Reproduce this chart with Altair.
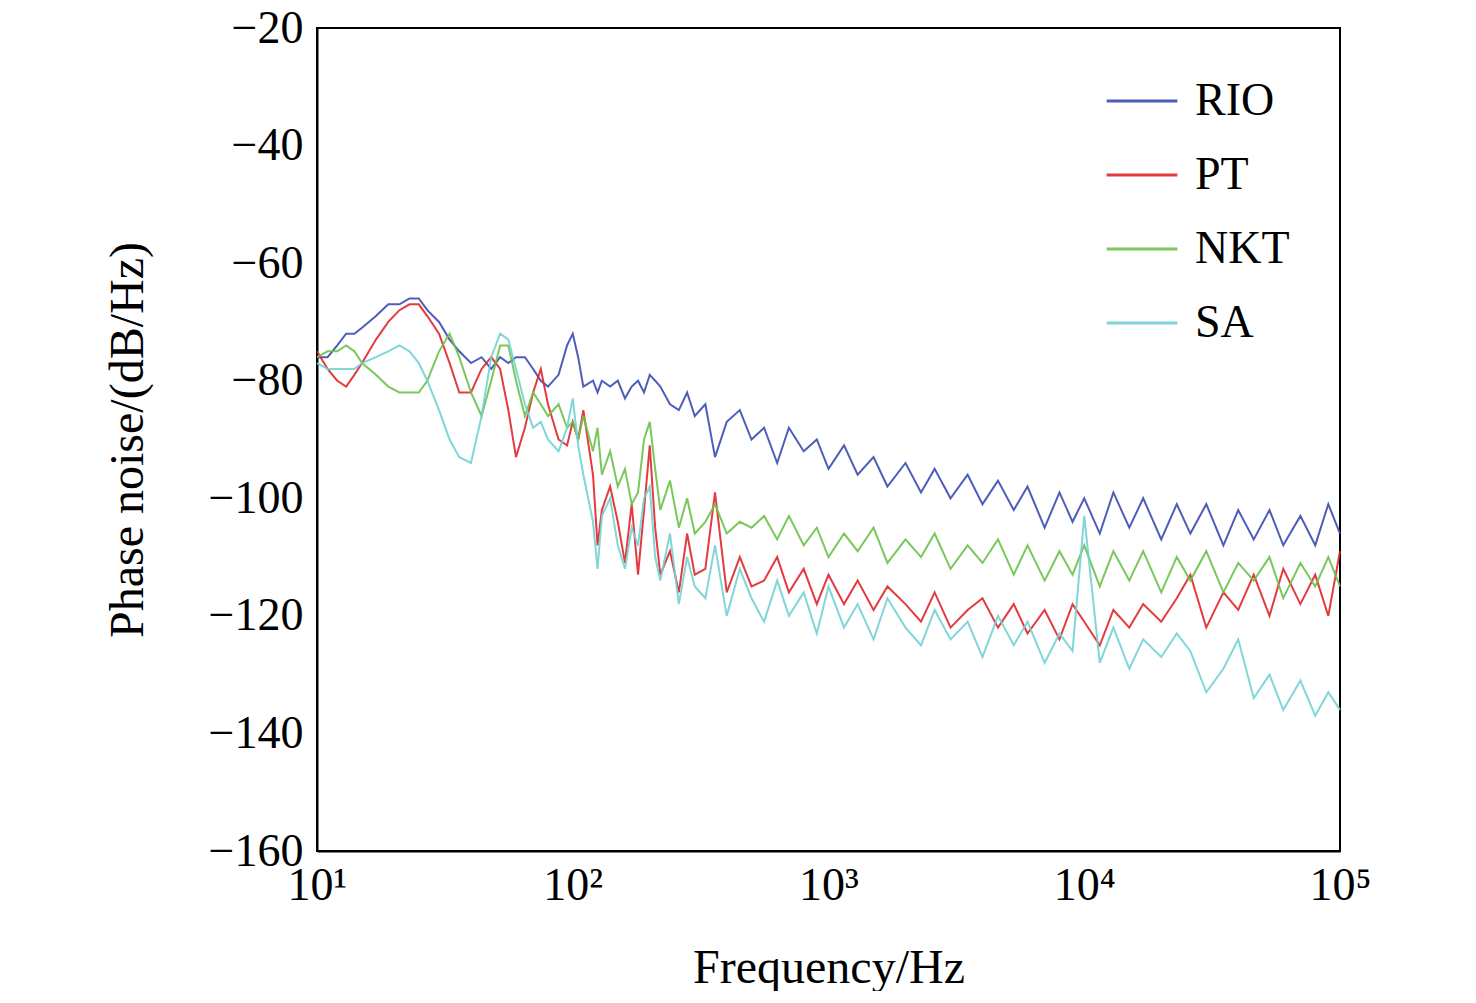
import altair as alt
import pandas as pd

freqs = [10, 11, 12, 13, 14, 15, 17, 19, 21, 23, 25, 27, 30, 33, 36, 40, 44, 48, 52, 56,
         60, 65, 70, 75, 80, 88, 95, 100, 105, 110, 120, 125, 130, 140, 150, 160, 170, 180,
         190, 200, 210, 220, 240, 260, 280, 300, 330, 360, 400, 450, 500, 560, 630, 700, 800,
         900, 1000, 1150, 1300, 1500, 1700, 2000, 2300, 2600, 3000, 3500, 4000, 4600, 5300,
         6000, 7000, 8000, 9000, 10000, 11500, 13000, 15000, 17000, 20000, 23000, 26000,
         30000, 35000, 40000, 46000, 53000, 60000, 70000, 80000, 90000, 100000]

rio = [-76, -76, -74, -72, -72, -71, -69, -67, -67, -66, -66, -68, -70, -73, -75, -77, -76, -78, -76, -77,
       -76, -76, -78, -80, -81, -79, -74, -72, -76, -81, -80, -82, -80, -81, -80, -83, -81, -80,
       -82, -79, -80, -81, -84, -85, -82, -86, -84, -93, -87, -85, -90, -88, -94, -88, -92,
       -90, -95, -91, -96, -93, -98, -94, -99, -95, -100, -96, -101, -97, -102,
       -98, -105, -99, -104, -100, -106, -99, -105, -100, -107, -101, -106,
       -101, -108, -102, -107, -102, -108, -103, -108, -101, -106]

pt = [-75, -78, -80, -81, -79, -77, -73, -70, -68, -67, -67, -69, -72, -77, -82, -82, -78, -76, -78, -85,
      -93, -88, -82, -78, -84, -90, -91, -87, -90, -85, -96, -108, -102, -98, -104, -111, -101, -113,
      -102, -91, -105, -113, -109, -116, -106, -113, -112, -99, -116, -110, -115, -114, -110, -116, -112,
      -118, -113, -118, -114, -119, -115, -118, -121, -116, -122, -119, -117, -122, -118,
      -123, -119, -124, -118, -121, -125, -119, -122, -118, -121, -117, -113,
      -122, -116, -119, -113, -120, -112, -118, -113, -120, -109]

nkt = [-76, -75, -75, -74, -75, -77, -79, -81, -82, -82, -82, -80, -75, -72, -76, -82, -86, -80, -74, -74,
       -80, -86, -82, -84, -86, -84, -88, -87, -90, -86, -92, -88, -96, -92, -98, -95, -101, -99,
       -90, -87, -95, -102, -97, -105, -100, -106, -104, -101, -106, -104, -105, -103, -107, -103, -108,
       -105, -110, -106, -109, -105, -111, -107, -110, -106, -112, -108, -111, -107, -113,
       -108, -114, -109, -113, -108, -115, -109, -114, -109, -116, -110, -114,
       -109, -116, -111, -114, -110, -117, -111, -115, -110, -115]

sa = [-77, -78, -78, -78, -78, -77, -76, -75, -74, -75, -77, -80, -85, -90, -93, -94, -86, -76, -72, -73,
      -78, -84, -88, -87, -90, -92, -88, -83, -91, -96, -104, -112, -103, -100, -108, -112, -105, -108,
      -100, -98, -110, -114, -106, -118, -110, -115, -117, -108, -120, -112, -117, -121, -114, -120, -116,
      -123, -115, -122, -118, -124, -117, -122, -125, -119, -124, -121, -127, -120, -125,
      -121, -128, -123, -126, -103, -128, -122, -129, -124, -127, -123, -126,
      -133, -129, -124, -134, -130, -136, -131, -137, -133, -136]

names = ["RIO", "PT", "NKT", "SA"]
colors = ["#3b4db0", "#e0262a", "#6cc24a", "#72d2d4"]

rows = []
for name, vals in zip(names, [rio, pt, nkt, sa]):
    for f, v in zip(freqs, vals):
        rows.append({"f": f, "v": v, "series": name})
df = pd.DataFrame(rows)

font = "Liberation Serif"
sup = ("'10' + (datum.value == 10 ? '¹' : datum.value == 100 ? '²' : "
       "datum.value == 1000 ? '³' : datum.value == 10000 ? '⁴' : '⁵')")

chart = (
    alt.Chart(df)
    .mark_line(strokeWidth=2, opacity=0.9)
    .encode(
        x=alt.X("f:Q", title="Frequency/Hz",
                scale=alt.Scale(type="log", domain=[10, 100000], nice=False),
                axis=alt.Axis(values=[10, 100, 1000, 10000, 100000], labelExpr=sup,
                              labelFlush=False, grid=False, ticks=False,
                              labelPadding=12, titlePadding=36)),
        y=alt.Y("v:Q", title="Phase noise/(dB/Hz)",
                scale=alt.Scale(domain=[-160, -20], nice=False),
                axis=alt.Axis(values=list(range(-160, 0, 20)), grid=False, ticks=False,
                              labelExpr="replace(datum.label, '-', '−')",
                              labelPadding=14, titlePadding=56)),
        color=alt.Color("series:N", sort=names,
                        scale=alt.Scale(domain=names, range=colors),
                        legend=alt.Legend(title=None, orient="none", legendX=788, legendY=36,
                                          symbolType="stroke", symbolSize=5000,
                                          symbolStrokeWidth=3, labelFontSize=46,
                                          labelFont=font, rowPadding=14, labelOffset=16)),
        order=alt.Order("f:Q"),
    )
    .properties(width=1023, height=823,
                autosize=alt.AutoSizeParams(type="none"),
                padding={"left": 309, "top": 20, "right": 120, "bottom": 140})
    .configure_view(stroke="black", strokeWidth=2)
    .configure_axis(labelFont=font, titleFont=font, labelFontSize=46, titleFontSize=48,
                    titleFontWeight="normal", labelColor="black", titleColor="black",
                    domainColor="black", domainWidth=2)
)

chart.save("out.html", embed_options={"renderer": "svg", "actions": False})
